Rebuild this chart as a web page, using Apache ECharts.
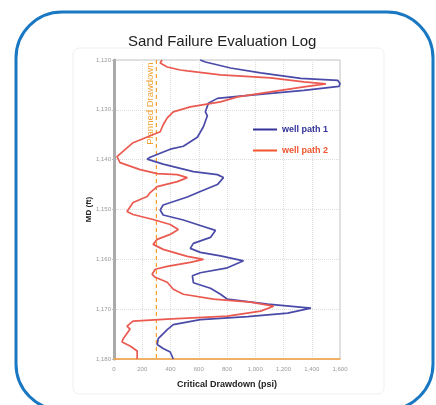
<!DOCTYPE html>
<html><head><meta charset="utf-8">
<script src="https://cdn.jsdelivr.net/npm/echarts@6/dist/echarts.min.js"></script>
<style>html,body{margin:0;padding:0;background:#fff}#c{width:436px;height:405px}</style>
</head><body><div id="c"></div>
<script>
// Depth (ft) and critical drawdown (psi) for each well path
const wellPath1Depth = [1120,1120.4,1121.6,1122.6,1123.7,1124.1,1124.7,1125.3,1126.1,1126.7,1127.3,1127.7,1128.7,1130.4,1131.2,1133.4,1135.5,1137.3,1137.9,1139.5,1139.9,1140.9,1142.4,1143.0,1143.6,1145.0,1146.4,1147.5,1149.1,1150.1,1151.1,1152.1,1153.2,1154.2,1155.6,1156.8,1157.8,1158.6,1159.3,1160.3,1161.7,1162.7,1163.3,1164.7,1165.8,1167.0,1168.0,1169.0,1169.8,1170.8,1171.5,1172.1,1173.1,1174.1,1175.9,1177.1,1177.9,1178.6,1180];
const wellPath1Psi = [610,647,825,1038,1322,1585,1600,1593,1344,1109,875,732,668,647,661,633,590,491,398,256,235,348,562,732,775,732,611,519,348,327,348,491,611,718,683,562,540,611,754,917,803,611,555,562,683,754,803,1088,1394,1230,946,611,420,377,313,306,348,398,420];
const wellPath2Depth = [1120,1120.6,1121.4,1122,1122.2,1123,1123.6,1124.4,1124.8,1125.4,1126.4,1127.4,1128.4,1129.4,1130.4,1131.6,1133,1134.4,1136.6,1139.4,1139.8,1140.6,1142,1142.8,1143,1143.6,1144.4,1145.4,1146.6,1147.4,1148.6,1150.4,1151,1152,1153,1154,1155,1156,1157,1158,1159.4,1160,1160.6,1161.4,1162,1163,1163.6,1164.6,1166,1167,1168,1168.6,1169.4,1170.4,1171.4,1172,1172.4,1173.4,1174,1176,1176.6,1177.4,1178.4,1180];
const wellPath2Psi = [340,327,377,469,519,754,1109,1344,1500,1344,1109,875,754,540,420,377,348,327,135,21,7,43,185,306,448,519,448,306,256,235,135,92,135,277,398,455,398,306,277,348,519,633,540,377,292,270,292,377,420,491,704,967,1130,1038,803,377,135,92,114,64,57,114,164,164];
const plannedDrawdown = 300;
const depthTicks = [1120,1130,1140,1150,1160,1170,1180];
const psiTicks = [0,200,400,600,800,1000,1200,1400,1600];

const pair = (xs, ys) => xs.map((v,i)=>[v, ys[i]]);
const fmt = v => v >= 1000 ? String(v).replace(/(\d)(\d{3})$/, '$1,$2') : String(v);

const chart = echarts.init(document.getElementById('c'));
const font = '"Liberation Sans", Arial, sans-serif';
chart.setOption({
  animation:false,
  title:{text:'Sand Failure Evaluation Log', left:123, top:29,
    textStyle:{fontFamily:font, fontSize:15, fontWeight:'normal', color:'#222'}},
  legend:{orient:'vertical', left:248, top:120, itemWidth:24, itemHeight:2, itemGap:12,
    icon:'rect',
    data:[{name:'well path 1', textStyle:{color:'#33339a'}},{name:'well path 2', textStyle:{color:'#f0552e'}}],
    textStyle:{fontFamily:font, fontSize:9, fontWeight:'bold'}},
  grid:{left:114, right:96, top:60, bottom:46, show:true, borderColor:'#c4c4c4', borderWidth:1},
  xAxis:{type:'value', min:psiTicks[0], max:psiTicks[psiTicks.length-1], interval:200,
    name:'Critical Drawdown (psi)', nameLocation:'middle', nameGap:21,
    nameTextStyle:{fontFamily:font, fontSize:9, fontWeight:'bold', color:'#222'},
    axisLine:{show:true, lineStyle:{color:'#f5a040', width:1.5}},
    axisTick:{show:false},
    axisLabel:{fontSize:6, color:'#999', margin:7, formatter:v=>fmt(v)},
    splitLine:{show:true, lineStyle:{color:'#dcdcdc', type:'dotted'}}},
  yAxis:{type:'value', min:depthTicks[0], max:depthTicks[depthTicks.length-1], interval:10, inverse:true,
    name:'MD (ft)', nameLocation:'middle', nameGap:21, nameRotate:90, nameMoveOverlap:false,
    nameTextStyle:{fontFamily:font, fontSize:8, fontWeight:'bold', color:'#222'},
    axisLine:{show:true, lineStyle:{color:'#aaaaaa', width:3}},
    axisTick:{show:true, length:2, lineStyle:{color:'#bbb'}},
    axisLabel:{fontSize:6, color:'#999', margin:3, formatter:v=>fmt(v)},
    splitLine:{show:true, lineStyle:{color:'#dcdcdc', type:'dotted'}}},
  series:[
    {name:'Planned Drawdown', type:'line', data:[[plannedDrawdown,1120],[plannedDrawdown,1180]],
      symbol:'none', lineStyle:{color:'#f5a030', width:1.2, type:[4,3]}, z:1},
    {name:'well path 1', type:'line', data:pair(wellPath1Psi, wellPath1Depth), symbol:'none',
      color:'#33339a', lineStyle:{color:'#4a4aa8', width:1.7}, z:3, clip:false},
    {name:'well path 2', type:'line', data:pair(wellPath2Psi, wellPath2Depth), symbol:'none',
      color:'#f0552e', lineStyle:{color:'#ea5a50', width:1.7}, z:4, clip:false}
  ]
});
const p = chart.convertToPixel({xAxisIndex:0, yAxisIndex:0}, [plannedDrawdown, 1120.5]);
chart.setOption({graphic:[
  {type:'rect', shape:{x:16, y:12, width:417, height:398, r:46}, style:{fill:'none', stroke:'#1a78c2', lineWidth:3}, z:-1},
  {type:'rect', shape:{x:73, y:48, width:311, height:346, r:6}, style:{fill:'none', stroke:'#efefef', lineWidth:1}, z:-2},
  {type:'text', x:p[0]-6, y:p[1], rotation:Math.PI/2,
    style:{text:'Planned Drawdown', fill:'#f0a030', font:'9.5px '+font, textAlign:'right', textVerticalAlign:'middle'}}
]});
</script></body></html>
